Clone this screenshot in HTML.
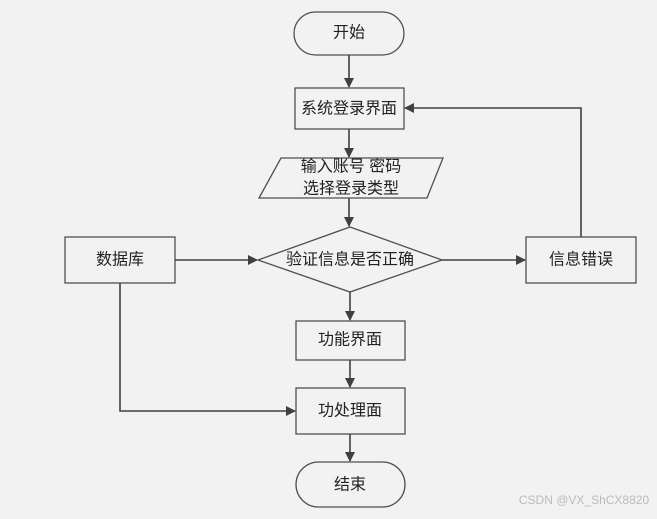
<!DOCTYPE html>
<html><head><meta charset="utf-8"><style>
html,body{margin:0;padding:0;background:#f2f2f2;}
svg text{font-family:"Liberation Sans","Noto Sans CJK SC",sans-serif;font-size:16px;fill:#222;text-anchor:middle;dominant-baseline:central;}
</style></head><body>
<svg width="657" height="514" viewBox="0 0 657 514" xmlns="http://www.w3.org/2000/svg">
<defs><marker id="a" markerWidth="10" markerHeight="10" refX="9" refY="5" orient="auto" markerUnits="userSpaceOnUse"><path d="M0,0 L10,5 L0,10 z" fill="#404040"/></marker></defs>
<g fill="#f2f2f2" stroke="#505050" stroke-width="1.3">
<rect x="294" y="12" width="110" height="43" rx="21.5"/>
<rect x="295" y="88" width="109" height="41"/>
<polygon points="281,158 443,158 427,198 259,198"/>
<polygon points="350,227 442,260 350,292 258,260"/>
<rect x="65" y="237" width="110" height="46"/>
<rect x="526" y="237" width="110" height="46"/>
<rect x="296" y="321" width="109" height="39"/>
<rect x="296" y="388" width="109" height="46"/>
<rect x="296" y="462" width="109" height="45" rx="22.5"/>
</g>
<g stroke="#404040" stroke-width="1.6" fill="none" marker-end="url(#a)">
<line x1="349" y1="55" x2="349" y2="87"/>
<line x1="349" y1="129" x2="349" y2="157"/>
<line x1="349" y1="198" x2="349" y2="226"/>
<line x1="175" y1="260" x2="257" y2="260"/>
<line x1="442" y1="260" x2="525" y2="260"/>
<polyline points="581,237 581,108 405,108"/>
<line x1="350" y1="292" x2="350" y2="320"/>
<line x1="350" y1="360" x2="350" y2="387"/>
<polyline points="120,283 120,411 295,411"/>
<line x1="350" y1="434" x2="350" y2="461"/>
</g>
<text x="349" y="33">开始</text>
<text x="349" y="109">系统登录界面</text>
<text x="351" y="167">输入账号 密码</text>
<text x="351" y="189">选择登录类型</text>
<text x="350" y="260">验证信息是否正确</text>
<text x="120" y="260">数据库</text>
<text x="581" y="260">信息错误</text>
<text x="350" y="340">功能界面</text>
<text x="350" y="411">功处理面</text>
<text x="350" y="485">结束</text>
<text x="584" y="500" style="font-size:12px;fill:#bbb">CSDN @VX_ShCX8820</text>
</svg>
</body></html>
